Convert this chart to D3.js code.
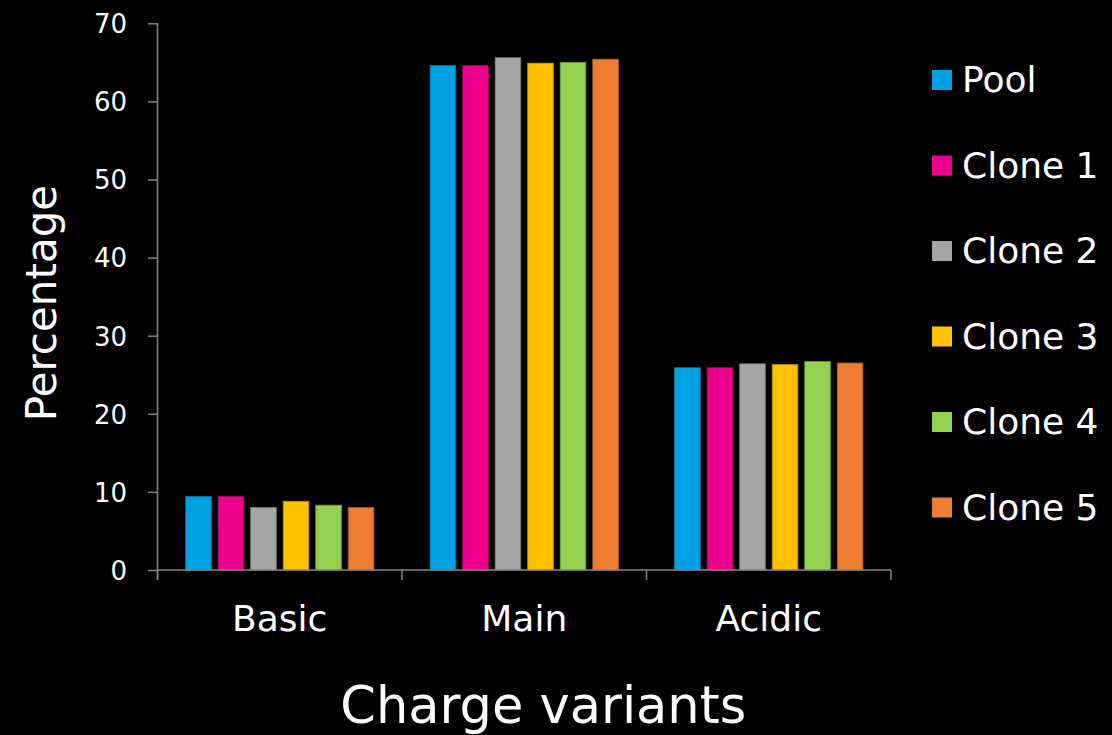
<!DOCTYPE html>
<html>
<head>
<meta charset="utf-8">
<script src="https://cdn.jsdelivr.net/npm/d3@7"></script>
<style>
  html, body { margin: 0; padding: 0; background: #000; }
  svg { display: block; }
  text { font-family: "Century Gothic", "URW Gothic", "DejaVu Sans", sans-serif; fill: #fff; }
</style>
</head>
<body>
<svg id="chart" width="1112" height="735"></svg>
<script>
// Charge-variant distribution per cell line
const categories = ["Basic", "Main", "Acidic"];
const seriesNames = ["Pool", "Clone 1", "Clone 2", "Clone 3", "Clone 4", "Clone 5"];
const pool   = [9.4, 64.6, 25.9];
const clone1 = [9.4, 64.6, 25.9];
const clone2 = [8.0, 65.6, 26.4];
const clone3 = [8.8, 64.9, 26.3];
const clone4 = [8.3, 65.0, 26.7];
const clone5 = [8.0, 65.4, 26.5];
const seriesValues = [pool, clone1, clone2, clone3, clone4, clone5];
const seriesColors = ["#00A2E3", "#EC008C", "#A5A5A5", "#FFC000", "#92D050", "#ED7D31"];
const yTicks = [0, 10, 20, 30, 40, 50, 60, 70];
const xTitle = "Charge variants";
const yTitle = "Percentage";

const svg = d3.select("#chart");
const axisColor = "#868686";

const plot = { left: 157.5, right: 891, top: 23.3, bottom: 570 };

const x = d3.scaleBand()
  .domain(categories)
  .range([plot.left, plot.right])
  .paddingInner(0).paddingOuter(0);

const xs = d3.scaleBand()
  .domain(seriesNames)
  .range([0, x.bandwidth()])
  .paddingInner(0.212)
  .paddingOuter(0.864);

const y = d3.scaleLinear().domain([0, 70]).range([plot.bottom, plot.top]);

// Bars
const groups = svg.append("g").selectAll("g")
  .data(categories)
  .join("g")
  .attr("transform", d => `translate(${x(d)},0)`);

groups.selectAll("rect")
  .data((c, ci) => seriesNames.map((s, si) => ({ s, si, v: seriesValues[si][ci] })))
  .join("rect")
  .attr("x", d => xs(d.s))
  .attr("width", xs.bandwidth())
  .attr("y", d => y(d.v))
  .attr("height", d => y(0) - y(d.v))
  .attr("fill", d => seriesColors[d.si])
  .attr("stroke", d => d3.color(seriesColors[d.si]).darker(0.9))
  .attr("stroke-width", 0.8);

// Y axis
const yAxis = svg.append("g")
  .attr("transform", `translate(${plot.left},0)`)
  .call(d3.axisLeft(y).tickValues(yTicks).tickSize(9.5).tickSizeOuter(0).tickPadding(21));
yAxis.select(".domain").remove();
yAxis.selectAll(".tick line").attr("stroke", axisColor).attr("stroke-width", 1.5);
yAxis.selectAll(".tick text")
  .attr("fill", "#fff")
  .style("font-size", "26px")
  .attr("dy", "0.36em");
svg.append("line")
  .attr("x1", plot.left).attr("x2", plot.left)
  .attr("y1", y(70)).attr("y2", y(0) + 10)
  .attr("stroke", axisColor).attr("stroke-width", 1.5);

// X axis: baseline with ticks at category boundaries
svg.append("line")
  .attr("x1", plot.left).attr("x2", plot.right)
  .attr("y1", y(0)).attr("y2", y(0))
  .attr("stroke", axisColor).attr("stroke-width", 1.5);
const boundaries = categories.map(c => x(c)).concat([x.range()[1]]);
svg.append("g").selectAll("line")
  .data(boundaries)
  .join("line")
  .attr("x1", d => d).attr("x2", d => d)
  .attr("y1", y(0)).attr("y2", y(0) + 10)
  .attr("stroke", axisColor).attr("stroke-width", 1.5);

svg.append("g").selectAll("text")
  .data(categories)
  .join("text")
  .attr("x", d => x(d) + x.bandwidth() / 2)
  .attr("y", 631)
  .attr("text-anchor", "middle")
  .style("font-size", "36px")
  .text(d => d);

// Axis titles
svg.append("text")
  .attr("x", (plot.left + plot.right) / 2 + 19)
  .attr("y", 723)
  .attr("text-anchor", "middle")
  .style("font-size", "51px")
  .text(xTitle);

svg.append("text")
  .attr("transform", `translate(56,303) rotate(-90)`)
  .attr("text-anchor", "middle")
  .style("font-size", "42px")
  .text(yTitle);

// Legend
const legend = svg.append("g").attr("transform", "translate(932,70)");
const rows = legend.selectAll("g")
  .data(seriesNames)
  .join("g")
  .attr("transform", (d, i) => `translate(0,${i * 85.5})`);
rows.append("rect")
  .attr("width", 20).attr("height", 20)
  .attr("fill", (d, i) => seriesColors[i]);
rows.append("text")
  .attr("x", 30)
  .attr("y", 22)
  .style("font-size", "36px")
  .text(d => d);
</script>
</body>
</html>
